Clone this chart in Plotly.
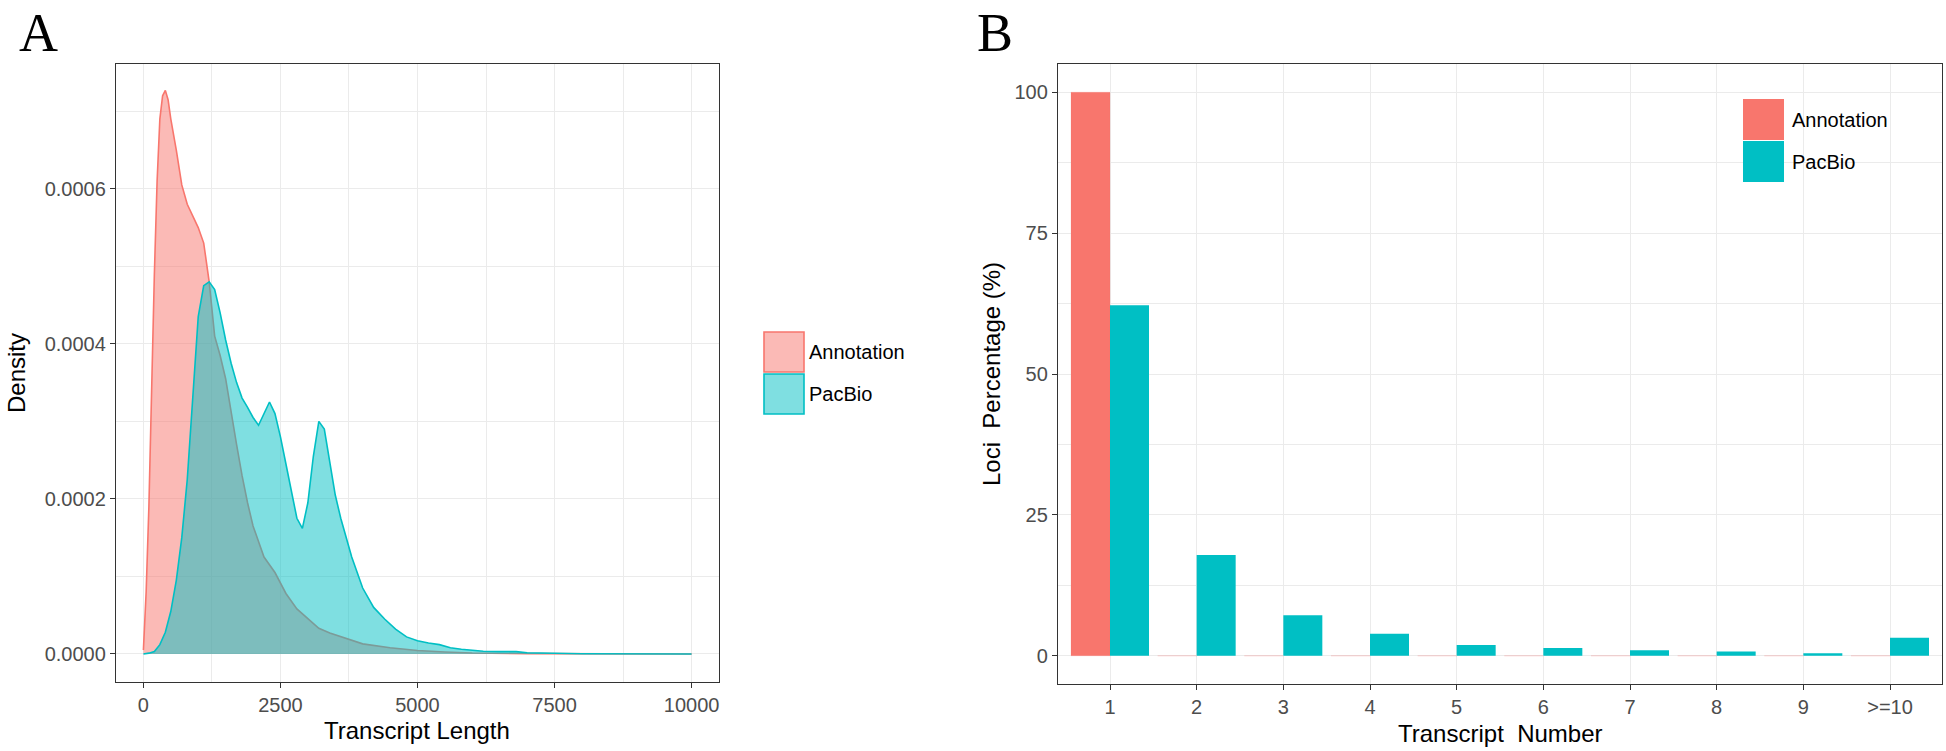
import plotly.graph_objects as go

# ---------------- Data ----------------
# Panel A: density of transcript length
ann_len = [0, 50, 100, 150, 200, 250, 300, 350, 400, 450, 500, 600, 700, 800, 900,
           1000, 1100, 1200, 1300, 1400, 1500, 1600, 1700, 1800, 1900, 2000, 2200,
           2400, 2600, 2800, 3000, 3200, 3400, 3600, 3800, 4000, 4500, 5000, 5500,
           6000, 7000, 8000, 10000]
ann_den = [0.05, 0.8, 1.9, 3.5, 4.9, 6.1, 6.9, 7.2, 7.27, 7.15, 6.9, 6.5, 6.05, 5.8, 5.65,
           5.5, 5.3, 4.8, 4.1, 3.85, 3.55, 3.1, 2.7, 2.3, 1.95, 1.65, 1.25,
           1.05, 0.78, 0.58, 0.45, 0.33, 0.27, 0.22, 0.17, 0.13, 0.08, 0.045, 0.025,
           0.012, 0.004, 0.001, 0.0]  # x 1e-4

pac_len = [0, 100, 200, 300, 400, 500, 600, 700, 800, 900, 1000, 1100, 1200, 1300,
           1400, 1500, 1600, 1700, 1800, 1900, 2000, 2100, 2200, 2300, 2400, 2500,
           2600, 2700, 2800, 2900, 3000, 3100, 3200, 3300, 3400, 3500, 3600, 3700,
           3800, 3900, 4000, 4200, 4400, 4600, 4800, 5000, 5200, 5400, 5600, 5800,
           6000, 6200, 6500, 6800, 7000, 7500, 8000, 10000]
pac_den = [0.0, 0.01, 0.03, 0.12, 0.28, 0.55, 0.95, 1.5, 2.25, 3.3, 4.35, 4.75, 4.8, 4.7,
           4.4, 4.05, 3.75, 3.5, 3.3, 3.18, 3.05, 2.95, 3.1, 3.25, 3.1, 2.8,
           2.45, 2.1, 1.75, 1.62, 1.95, 2.55, 3.0, 2.9, 2.45, 2.05, 1.75, 1.5,
           1.25, 1.05, 0.85, 0.6, 0.45, 0.32, 0.22, 0.17, 0.14, 0.12, 0.08, 0.06,
           0.045, 0.035, 0.03, 0.03, 0.015, 0.005, 0.002, 0.0]  # x 1e-4

len_ticks = [0, 2500, 5000, 7500, 10000]
den_ticks = [0.0, 0.0002, 0.0004, 0.0006]

# Panel B: loci percentage by transcript number
tx_numbers = ["1", "2", "3", "4", "5", "6", "7", "8", "9", ">=10"]
ann_pct = [100, 0, 0, 0, 0, 0, 0, 0, 0, 0]
pac_pct = [62.2, 17.9, 7.2, 3.9, 1.9, 1.4, 1.0, 0.75, 0.45, 3.2]
pct_ticks = [0, 25, 50, 75, 100]

series = ["Annotation", "PacBio"]
RED = "#F8766D"
TEAL = "#00BFC4"
RED_A = "rgba(248,118,109,0.5)"
TEAL_A = "rgba(0,191,196,0.5)"

W, H = 1946, 751
FONT = "Liberation Sans"
GRID = "#EBEBEB"
BORDER = "#333333"


def xd(a, b):
    return [a / W, b / W]


def yd(top, bottom):
    return [(H - bottom) / H, (H - top) / H]


fig = go.Figure()

fig.add_trace(go.Scatter(
    x=ann_len, y=[v * 1e-4 for v in ann_den], mode="lines", fill="tozeroy",
    fillcolor=RED_A, line=dict(color=RED, width=1.6), name=series[0],
    xaxis="x", yaxis="y", showlegend=False))
fig.add_trace(go.Scatter(
    x=pac_len, y=[v * 1e-4 for v in pac_den], mode="lines", fill="tozeroy",
    fillcolor=TEAL_A, line=dict(color=TEAL, width=1.6), name=series[1],
    xaxis="x", yaxis="y", showlegend=False))

fig.add_trace(go.Bar(
    x=tx_numbers, y=ann_pct, name=series[0],
    marker=dict(color=RED, line=dict(color="rgba(248,118,109,0.35)", width=0.5)),
    xaxis="x2", yaxis="y2", showlegend=False))
fig.add_trace(go.Bar(
    x=tx_numbers, y=pac_pct, name=series[1], marker=dict(color=TEAL, line=dict(width=0)),
    xaxis="x2", yaxis="y2", showlegend=False))

tickfont = dict(family=FONT, size=20, color="#4D4D4D")
common = dict(showgrid=True, gridcolor=GRID, gridwidth=1.4, zeroline=False,
              showline=True, mirror=True, linecolor=BORDER, linewidth=1.3,
              ticks="outside", ticklen=5, tickwidth=1.3, tickcolor=BORDER,
              tickfont=tickfont)

fig.update_layout(
    width=W, height=H, margin=dict(l=0, r=0, t=0, b=0),
    paper_bgcolor="white", plot_bgcolor="white",
    barmode="group", bargap=0.1, bargroupgap=0,
    xaxis=dict(domain=xd(116, 719), range=[-500, 10500], tickvals=len_ticks,
               ticktext=[str(v) for v in len_ticks],
               minor=dict(tickvals=[1250, 3750, 6250, 8750], showgrid=True,
                          gridcolor=GRID, gridwidth=1.1, ticks=""),
               anchor="y", **common),
    yaxis=dict(domain=yd(64, 682), range=[-0.0000362, 0.000761], tickvals=den_ticks,
               ticktext=["%.4f" % v for v in den_ticks],
               minor=dict(tickvals=[0.0001, 0.0003, 0.0005, 0.0007], showgrid=True,
                          gridcolor=GRID, gridwidth=1.1, ticks=""),
               anchor="x", **common),
    xaxis2=dict(domain=xd(1058, 1942), type="category", range=[-0.6, 9.6],
                anchor="y2", **common),
    yaxis2=dict(domain=yd(64, 684), range=[-5, 105], tickvals=pct_ticks,
                minor=dict(tickvals=[12.5, 37.5, 62.5, 87.5], showgrid=True,
                           gridcolor=GRID, gridwidth=1.1, ticks=""),
                anchor="x2", **common),
)

shapes = []
annots = []


def px_ann(text, x, y, size, color="black", family=FONT, angle=0, xanchor="center", yanchor="middle"):
    annots.append(dict(text=text, x=x / W, y=1 - y / H, xref="paper", yref="paper",
                       showarrow=False, textangle=angle, xanchor=xanchor, yanchor=yanchor,
                       font=dict(family=family, size=size, color=color)))


def key(x0, y0, x1, y1, fill, line, lw):
    shapes.append(dict(type="rect", xref="paper", yref="paper",
                       x0=x0 / W, x1=x1 / W, y0=1 - y1 / H, y1=1 - y0 / H,
                       fillcolor=fill, line=dict(color=line, width=lw)))


# Panel letters
px_ann("A", 38, 1, 54, family="Liberation Serif", yanchor="top")
px_ann("B", 995, 1, 54, family="Liberation Serif", yanchor="top")

# Axis titles
px_ann("Transcript Length", 417, 730, 24)
px_ann("Density", 16, 373, 24, angle=-90)
px_ann("Transcript\u00a0 Number", 1500, 733, 24)
px_ann("Loci\u00a0 Percentage (%)", 991, 374, 24, angle=-90)

# Legend A (area keys)
key(764, 332, 804, 372, RED_A, RED, 1.6)
key(764, 374, 804, 414, TEAL_A, TEAL, 1.6)
px_ann(series[0], 807, 352, 20, xanchor="left")
px_ann(series[1], 807, 394, 20, xanchor="left")

# Legend B (bar keys)
key(1743, 99, 1784, 140, RED, RED, 0)
key(1743, 141, 1784, 182, TEAL, TEAL, 0)
px_ann(series[0], 1790, 120, 20, xanchor="left")
px_ann(series[1], 1790, 162, 20, xanchor="left")

fig.update_layout(shapes=shapes, annotations=annots)

# remove the browser's default page margin so the figure sits at the window origin
fig.write_html("out.html", config={"displayModeBar": False},
               post_script="document.body.style.margin='0';")
